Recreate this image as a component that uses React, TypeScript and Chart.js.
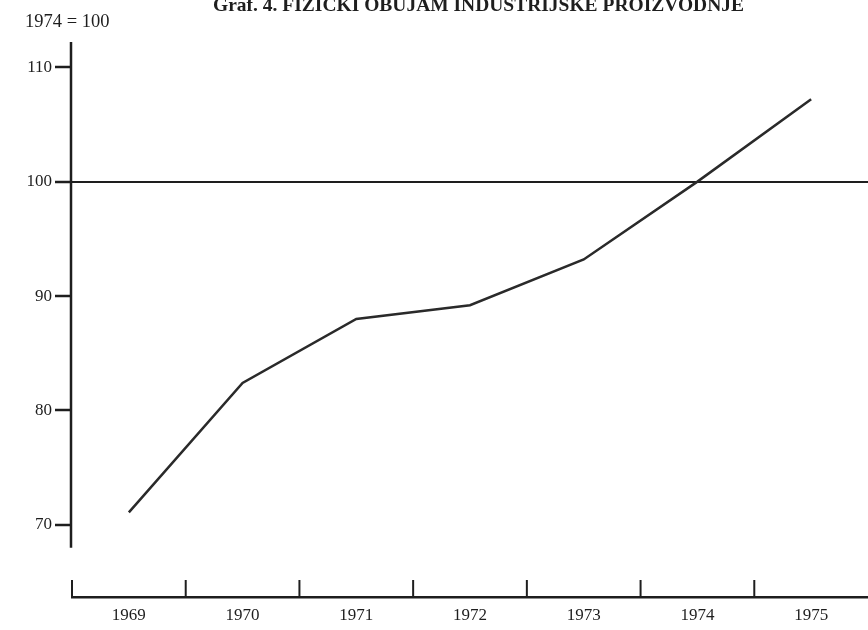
import React, { useEffect, useRef } from "react";
import { Chart, registerables } from "chart.js";

Chart.register(...registerables);

const TITLE = "Graf. 4. FIZIČKI OBUJAM INDUSTRIJSKE PROIZVODNJE";
const BASE_LABEL = "1974 = 100";
const years = ["1969", "1970", "1971", "1972", "1973", "1974", "1975"];
const production = [71.1, 82.4, 88.0, 89.2, 93.2, 100, 107.2];
const yTicks = [70, 80, 90, 100, 110];
const BASE_VALUE = 100;

const Y_MIN = 63.7;
const Y_MAX = 112.2;
const Y_AXIS_BOTTOM = 68;
const INK = "#1e1e1e";
const FONT = '"Liberation Serif", "DejaVu Serif", serif';

const axisPlugin = {
  id: "axisLines",
  afterDraw(chart: any) {
    const { ctx, chartArea, scales } = chart;
    const x = scales.x;
    const y = scales.y;
    ctx.save();
    ctx.strokeStyle = INK;
    ctx.lineCap = "butt";
    // vertical y axis line (stops short of the x axis)
    ctx.lineWidth = 2.5;
    const ax = chartArea.left - 1;
    ctx.beginPath();
    ctx.moveTo(ax, y.getPixelForValue(Y_MAX));
    ctx.lineTo(ax, y.getPixelForValue(Y_AXIS_BOTTOM));
    ctx.stroke();
    // upward tick marks on the x axis, between the year labels
    const half = (x.getPixelForValue(1) - x.getPixelForValue(0)) / 2;
    ctx.lineWidth = 2;
    for (let i = 0; i < years.length; i++) {
      const px = x.getPixelForValue(i) - half;
      ctx.beginPath();
      ctx.moveTo(px, chartArea.bottom);
      ctx.lineTo(px, chartArea.bottom - 17);
      ctx.stroke();
    }
    ctx.restore();
  },
};

export default function App() {
  const ref = useRef<HTMLCanvasElement | null>(null);

  useEffect(() => {
    if (!ref.current) return;
    const chart = new Chart(ref.current, {
      type: "line",
      data: {
        labels: years,
        datasets: [
          {
            data: production,
            borderColor: "#2a2a2a",
            borderWidth: 2.5,
            pointRadius: 0,
            tension: 0,
            fill: false,
          },
        ],
      },
      options: {
        responsive: false,
        animation: false,
        layout: { padding: { top: 42, left: 0, right: 0, bottom: 0 } },
        plugins: {
          legend: { display: false },
          title: { display: false },
          tooltip: { enabled: false },
        },
        scales: {
          x: {
            type: "category",
            offset: true,
            grid: { display: false, drawTicks: false, tickLength: 0 },
            border: { display: true, color: INK, width: 2.5 },
            ticks: {
              color: INK,
              font: { family: FONT, size: 17 },
              padding: 8,
              maxRotation: 0,
              autoSkip: false,
            },
            afterFit: (s: any) => {
              s.height = 33;
            },
          },
          y: {
            type: "linear",
            min: Y_MIN,
            max: Y_MAX,
            afterBuildTicks: (s: any) => {
              s.ticks = yTicks.map((v) => ({ value: v }));
            },
            ticks: {
              color: INK,
              font: { family: FONT, size: 17 },
              padding: 3,
              includeBounds: false,
            },
            grid: {
              drawOnChartArea: true,
              color: (c: any) =>
                c.tick && c.tick.value === BASE_VALUE ? INK : "rgba(0,0,0,0)",
              lineWidth: 2,
              tickColor: INK,
              tickLength: 17,
              tickWidth: 2.5,
            },
            border: { display: false },
            afterFit: (s: any) => {
              s.width = 72;
            },
          },
        },
      },
      plugins: [axisPlugin],
    });
    return () => chart.destroy();
  }, []);

  return (
    <div
      style={{
        position: "absolute",
        left: 0,
        top: 0,
        width: 868,
        height: 630,
        background: "#fff",
        overflow: "hidden",
      }}
    >
      <canvas ref={ref} width={868} height={630} />
      <div
        style={{
          position: "absolute",
          left: 213,
          top: -6,
          fontFamily: FONT,
          fontWeight: "bold",
          fontSize: 19.5,
          lineHeight: "22px",
          color: INK,
          whiteSpace: "nowrap",
        }}
      >
        {TITLE}
      </div>
      <div
        style={{
          position: "absolute",
          left: 25,
          top: 10,
          fontFamily: FONT,
          fontSize: 18.5,
          lineHeight: "22px",
          color: INK,
          whiteSpace: "nowrap",
        }}
      >
        {BASE_LABEL}
      </div>
    </div>
  );
}
